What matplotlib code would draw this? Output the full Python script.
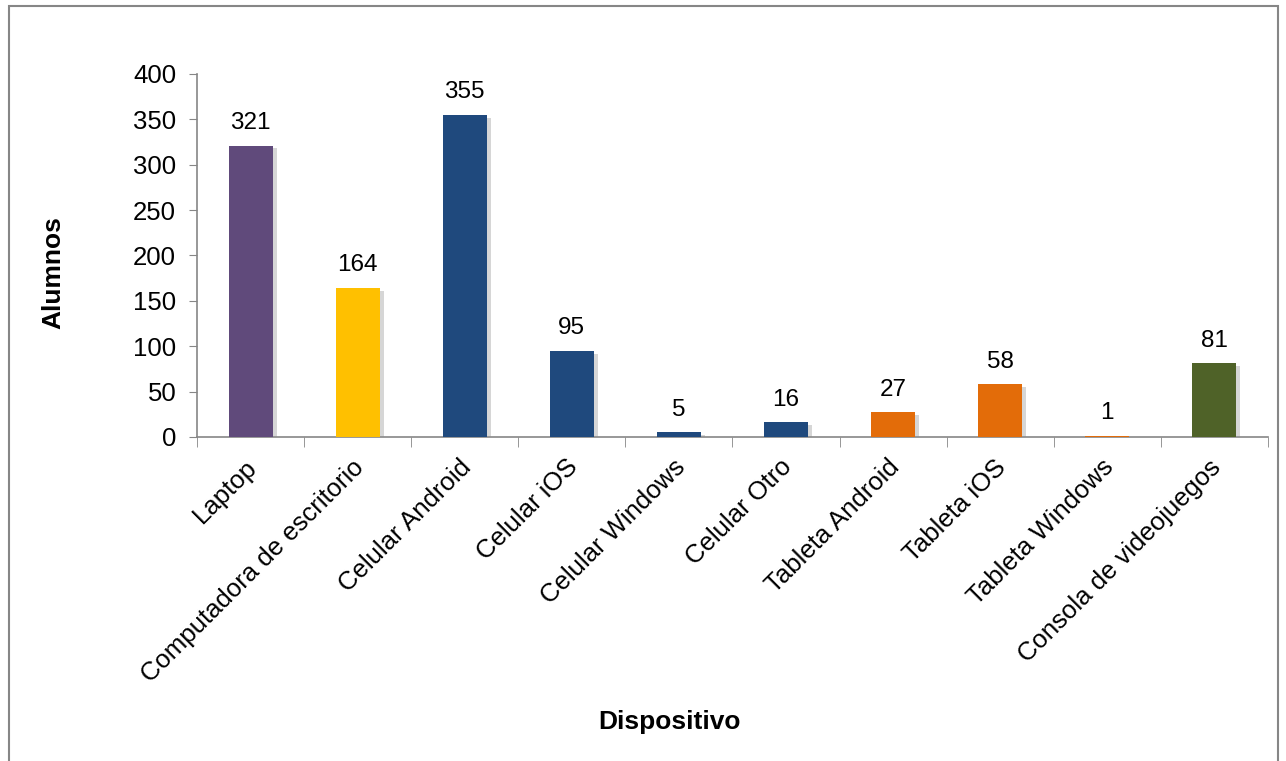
import numpy as np
import matplotlib.pyplot as plt
import matplotlib.patheffects as pe
from matplotlib.patches import Rectangle
from matplotlib.transforms import ScaledTranslation

plt.rcParams['font.family'] = ['Liberation Sans', 'DejaVu Sans']

# Datos
dispositivos = ["Laptop", "Computadora de escritorio", "Celular Android", "Celular iOS",
                "Celular Windows", "Celular Otro", "Tableta Android", "Tableta iOS",
                "Tableta Windows", "Consola de videojuegos"]
alumnos = [321, 164, 355, 95, 5, 16, 27, 58, 1, 81]
colores = ["#604A7B", "#FFC000", "#1F497D", "#1F497D", "#1F497D", "#1F497D",
           "#E36C09", "#E36C09", "#E36C09", "#4F6228"]

fig = plt.figure(figsize=(12.86, 7.61), dpi=100)
ax = fig.add_axes([0.1532, 0.4258, 0.8327, 0.477])

x = np.arange(len(dispositivos))
barras = ax.bar(x, alumnos, width=0.41, color=colores, zorder=3)
for b in barras:
    b.set_path_effects([pe.SimplePatchShadow(offset=(3, -2), shadow_rgbFace='#8c8c8c', alpha=0.35),
                        pe.Normal()])

for xi, v in zip(x, alumnos):
    ax.annotate(str(v), (xi, v), xytext=(0, 8.5), textcoords='offset points',
                ha='center', va='bottom', fontsize=17.5)

ax.set_xlim(-0.5, len(dispositivos) - 0.5)
ax.set_ylim(0, 400)
ax.set_yticks(np.arange(0, 401, 50))
ax.tick_params(axis='y', labelsize=18.5, length=6, color='#868686', direction='out', pad=9)

ax.set_xticks(x)
ax.set_xticklabels(dispositivos, rotation=45, ha='right', rotation_mode='anchor', fontsize=18.5)
ax.tick_params(axis='x', which='major', length=0, pad=13)
ax.set_xticks(np.arange(-0.5, len(dispositivos), 1), minor=True)
ax.tick_params(axis='x', which='minor', length=7, color='#868686')
desplazamiento = ScaledTranslation(-6 / 100, 0, fig.dpi_scale_trans)
for lab in ax.get_xticklabels():
    lab.set_transform(lab.get_transform() + desplazamiento)

for s in ['top', 'right']:
    ax.spines[s].set_visible(False)
for s in ['left', 'bottom']:
    ax.spines[s].set_color('#868686')
    ax.spines[s].set_linewidth(1.2)

fig.text(53 / 1286, 1 - 273 / 761, "Alumnos", rotation=90, ha='center', va='center',
         fontsize=19, fontweight='bold')
fig.text(669 / 1286, 1 - 722 / 761, "Dispositivo", ha='center', va='center',
         fontsize=19, fontweight='bold')

# Marco del gráfico
fig.patches.append(Rectangle((9 / 1286, -0.05), (1278 - 9) / 1286, 1.05 - 6 / 761,
                             transform=fig.transFigure, fill=False, edgecolor='#868686',
                             linewidth=1.5))

fig.savefig("out.png", dpi=100)
